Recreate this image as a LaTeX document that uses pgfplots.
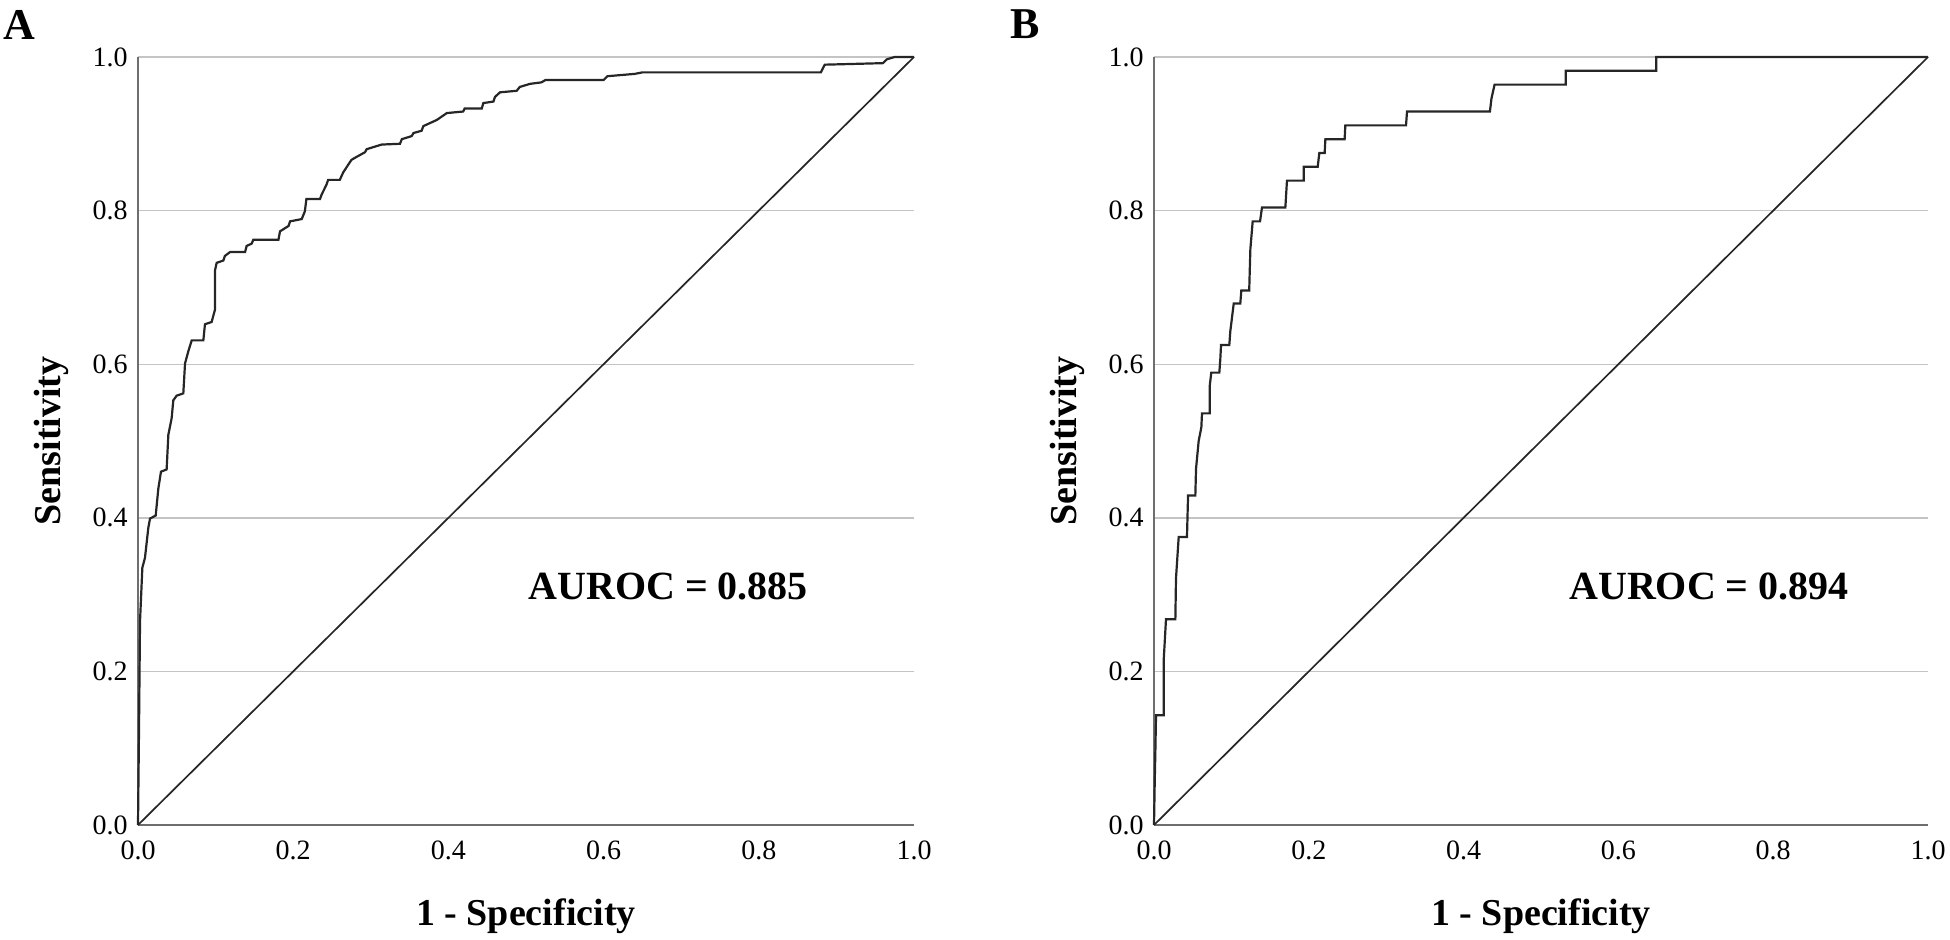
\documentclass[border=0pt]{standalone}
\usepackage{fontspec}
\setmainfont{Liberation Serif}
\usepackage{pgfplots}
\pgfplotsset{compat=1.18}
\definecolor{gridc}{HTML}{C4C4C4}
\definecolor{axisc}{HTML}{6E6E6E}
\definecolor{curvec}{HTML}{262626}
\pgfplotsset{
  rocaxis/.style={
    scale only axis,
    width=388pt, height=384pt,
    anchor=south west,
    xmin=0, xmax=1, ymin=0, ymax=1,
    axis x line*=bottom, axis y line*=left,
    axis line style={draw=axisc, line width=1pt},
    xtick={0,0.2,0.4,0.6,0.8,1.0},
    ytick={0,0.2,0.4,0.6,0.8,1.0},
    xticklabels={0.0,0.2,0.4,0.6,0.8,1.0},
    yticklabels={0.0,0.2,0.4,0.6,0.8,1.0},
    major tick length=0pt,
    tick style={draw=none},
    ymajorgrids,
    grid style={draw=gridc, line width=0.7pt},
    ticklabel style={font=\fontsize{14}{16}\selectfont, inner sep=0pt},
    yticklabel style={anchor=east, xshift=-5pt},
    xticklabel style={anchor=north, yshift=-7.5pt},
    label style={font=\fontsize{19}{22}\selectfont\bfseries},
    xlabel={1 - Specificity},
    ylabel={Sensitivity},
    xlabel style={at={(axis description cs:0.5,-0.1302)}, anchor=base, inner sep=0pt},
    ylabel style={at={(axis description cs:-0.1005,0.5)}, anchor=base, inner sep=0pt},
    clip=false,
  }
}
\begin{document}
\begin{tikzpicture}
\useasboundingbox (0,0) rectangle (975pt,469.5pt);
% Panel A
\begin{axis}[rocaxis, at={(69pt,57pt)}]
\addplot[curvec, line width=0.85pt] coordinates {(0,0) (1,1)};
\addplot[curvec, line width=1.1pt] coordinates {
(0,0) (0.0013,0.125) (0.0026,0.265) (0.0056,0.335) (0.009,0.348) (0.0133,0.387)
(0.0155,0.399) (0.0228,0.403) (0.0262,0.438) (0.0296,0.460) (0.0369,0.463)
(0.0391,0.508) (0.0434,0.530) (0.0455,0.553) (0.0498,0.559) (0.0584,0.562)
(0.0606,0.601) (0.0649,0.617) (0.0692,0.631) (0.0842,0.631) (0.0863,0.652)
(0.0949,0.655) (0.0992,0.671) (0.0992,0.722) (0.1014,0.732) (0.110,0.735)
(0.112,0.741) (0.1186,0.746) (0.138,0.746) (0.140,0.754) (0.1465,0.757)
(0.1486,0.762) (0.181,0.762) (0.183,0.773) (0.194,0.780) (0.196,0.786)
(0.211,0.789) (0.215,0.799) (0.217,0.815) (0.2345,0.815) (0.2367,0.821)
(0.243,0.834) (0.245,0.840) (0.260,0.840) (0.2646,0.850) (0.275,0.866)
(0.280,0.869) (0.2925,0.876) (0.2947,0.880) (0.314,0.886) (0.3376,0.887)
(0.340,0.893) (0.3527,0.897) (0.355,0.901) (0.3655,0.904) (0.3677,0.910)
(0.385,0.918) (0.398,0.927) (0.419,0.929) (0.421,0.933) (0.443,0.933)
(0.445,0.940) (0.458,0.942) (0.460,0.948) (0.4665,0.954) (0.488,0.956)
(0.492,0.961) (0.505,0.965) (0.52,0.967) (0.525,0.970) (0.60,0.970)
(0.605,0.975) (0.64,0.978) (0.65,0.980) (0.88,0.980) (0.885,0.990)
(0.96,0.992) (0.965,0.997) (0.975,1.0) (1.0,1.0)
};
\node[anchor=base west, inner sep=0pt, font=\fontsize{20}{24}\selectfont\bfseries] at (axis cs:0.5026,0.294) {AUROC = 0.885};
\end{axis}
% Panel B
\begin{axis}[rocaxis, at={(577pt,57pt)}, width=387pt]
\addplot[curvec, line width=0.85pt] coordinates {(0,0) (1,1)};
\addplot[curvec, line width=1.1pt] coordinates {
(0,0) (0.0009,0.054) (0.0017,0.093) (0.0026,0.143) (0.0125,0.143)
(0.0125,0.214) (0.0155,0.268) (0.0276,0.268) (0.0284,0.321) (0.0319,0.375)
(0.0426,0.375) (0.044,0.429) (0.0534,0.429) (0.0543,0.464) (0.0577,0.500)
(0.0612,0.518) (0.062,0.536) (0.0719,0.536) (0.0719,0.571) (0.074,0.589)
(0.0844,0.589) (0.0857,0.607) (0.0866,0.625) (0.0973,0.625) (0.0986,0.643)
(0.1008,0.661) (0.103,0.679) (0.1115,0.679) (0.1128,0.696) (0.123,0.696)
(0.1245,0.750) (0.1275,0.786) (0.137,0.786) (0.1395,0.804) (0.1697,0.804)
(0.1718,0.839) (0.1934,0.839) (0.1934,0.857) (0.2115,0.857) (0.2136,0.875)
(0.2205,0.875) (0.2214,0.893) (0.2463,0.893) (0.2472,0.911) (0.3256,0.911)
(0.3269,0.929) (0.434,0.929) (0.436,0.946) (0.440,0.964) (0.532,0.964)
(0.532,0.982) (0.649,0.982) (0.649,1.0) (1.0,1.0)
};
\node[anchor=base west, inner sep=0pt, font=\fontsize{20}{24}\selectfont\bfseries] at (axis cs:0.536,0.294) {AUROC = 0.894};
\end{axis}
\node[anchor=base west, inner sep=0pt, font=\fontsize{22}{24}\selectfont\bfseries] at (1.5pt,449.5pt) {A};
\node[anchor=base west, inner sep=0pt, font=\fontsize{22}{24}\selectfont\bfseries] at (505pt,450pt) {B};
\end{tikzpicture}
\end{document}
